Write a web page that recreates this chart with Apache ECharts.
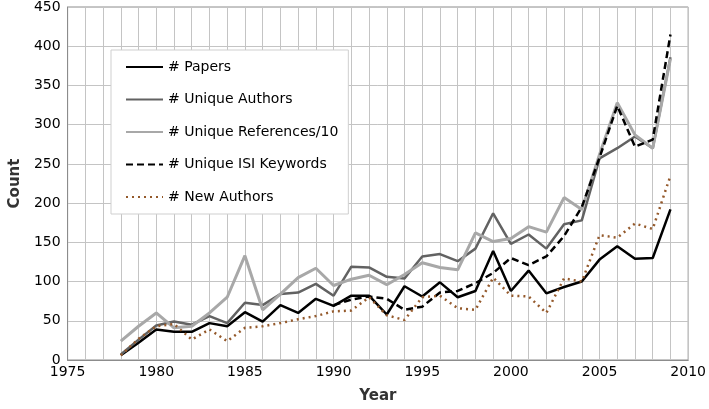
<!DOCTYPE html>
<html>
<head>
<meta charset="utf-8">
<script src="https://cdn.jsdelivr.net/npm/echarts@6/dist/echarts.min.js"></script>
<style>html,body{margin:0;padding:0;background:#fff}#c{width:709px;height:409px}</style>
</head>
<body>
<div id="c"></div>
<script>
const years = [1978,1979,1980,1981,1982,1983,1984,1985,1986,1987,1988,1989,1990,1991,1992,1993,1994,1995,1996,1997,1998,1999,2000,2001,2002,2003,2004,2005,2006,2007,2008,2009];
const papers = [6,22,39,36,36,47,43,61,49,70,60,78,69,82,82,58,94,81,99,80,88,139,88,114,85,93,100,128,145,129,130,192];
const uniqueAuthors = [7,26,44,49,45,56,47,73,70,84,86,97,82,119,118,106,104,132,135,126,142,187,148,160,142,173,178,257,270,285,270,386];
const uniqueReferences10 = [24,43,60,41,43,60,80,133,64,84,105,117,95,103,108,96,109,124,118,115,162,151,155,170,163,207,192,262,328,287,270,384];
const uniqueKeywords = [null,null,null,null,null,null,null,null,null,null,null,null,70,77,81,78,64,68,86,88,98,111,130,121,132,158,195,258,324,272,281,415];
const newAuthors = [6,27,43,46,26,39,24,41,43,47,52,56,62,63,80,57,51,80,82,66,64,105,82,81,60,104,100,159,156,174,167,235];
const seriesNames = ['# Papers','# Unique Authors','# Unique References/10','# Unique ISI Keywords','# New Authors'];

function pairs(vals){ return years.map((y,i)=>[y, vals[i]]).filter(p=>p[1]!==null); }

const font = 'DejaVu Sans';
const chart = echarts.init(document.getElementById('c'), null, {renderer:'canvas'});
function mk(name, vals, color, width, type){
  return {name, type:'line', data:pairs(vals), showSymbol:false, symbol:'none',
    lineStyle:{color, width, type}, itemStyle:{color}, animation:false};
}
chart.setOption({
  animation:false,
  backgroundColor:'#fff',
  grid:{left:56, right:19, top:5, bottom:41, show:true, borderColor:'#8c8c8c', borderWidth:1},
  legend:{
    orient:'vertical', left:111, top:50, padding:[10,10,10,14], itemGap:18.5,
    itemWidth:37, itemHeight:14, backgroundColor:'#fff', borderColor:'#cfcfcf', borderWidth:1,
    itemStyle:{opacity:0},
    textStyle:{fontFamily:font, fontSize:14, color:'#000'},
    data:seriesNames
  },
  xAxis:{
    type:'value', min:1975, max:2010, interval:5,
    name:'Year', nameLocation:'middle', nameGap:29,
    nameTextStyle:{fontFamily:font, fontSize:15, fontWeight:'bold', color:'#333'},
    axisLine:{show:true, lineStyle:{color:'#8c8c8c', width:1}},
    axisTick:{show:false},
    axisLabel:{fontFamily:font, fontSize:14, color:'#000', margin:5, formatter:v=>String(v)},
    splitLine:{show:true, lineStyle:{color:'#c4c4c4', width:1}},
    minorTick:{show:false, splitNumber:5},
    minorSplitLine:{show:true, lineStyle:{color:'#c4c4c4', width:1}}
  },
  yAxis:{
    type:'value', min:0, max:450, interval:50,
    name:'Count', nameLocation:'middle', nameGap:38,
    nameTextStyle:{fontFamily:font, fontSize:15, fontWeight:'bold', color:'#333'},
    axisLine:{show:true, lineStyle:{color:'#8c8c8c', width:1}},
    axisTick:{show:false},
    axisLabel:{fontFamily:font, fontSize:14, color:'#000', margin:7},
    splitLine:{show:true, lineStyle:{color:'#c4c4c4', width:1}}
  },
  series:[
    mk(seriesNames[0], papers, '#000000', 2.5, 'solid'),
    mk(seriesNames[1], uniqueAuthors, '#626262', 2.5, 'solid'),
    mk(seriesNames[2], uniqueReferences10, '#a8a8a8', 3, 'solid'),
    mk(seriesNames[3], uniqueKeywords, '#000000', 2.5, [7,4]),
    mk(seriesNames[4], newAuthors, '#94592b', 2.5, [2,4])
  ]
});
</script>
</body>
</html>
